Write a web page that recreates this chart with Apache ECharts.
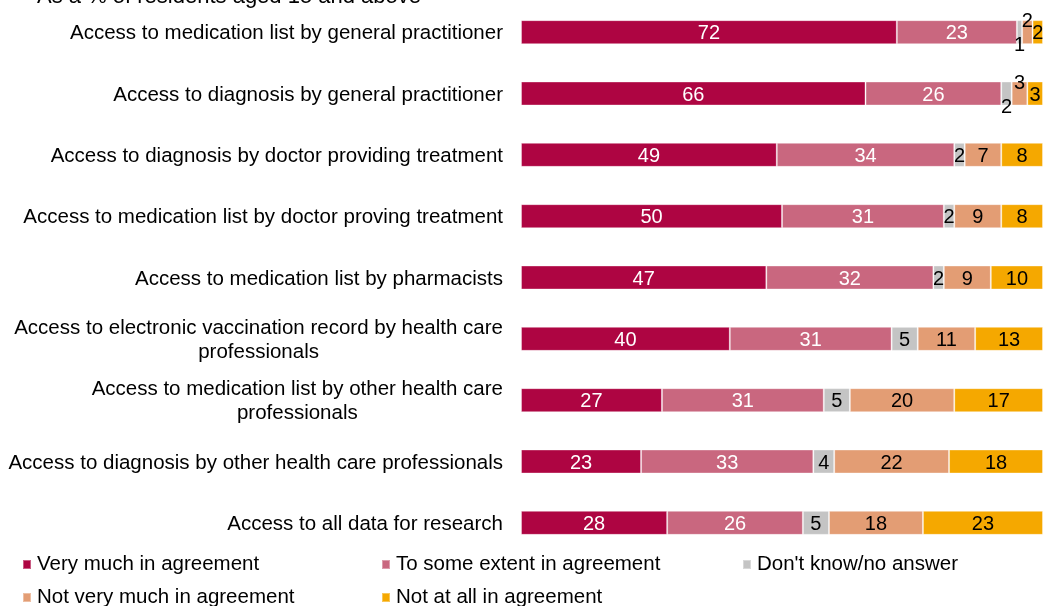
<!DOCTYPE html>
<html>
<head>
<meta charset="utf-8">
<script src="https://cdn.jsdelivr.net/npm/echarts@6/dist/echarts.min.js"></script>
<style>
  html, body { margin: 0; padding: 0; background: #fff; }
  #chart { width: 1043px; height: 606px; }
</style>
</head>
<body>
<div id="chart"></div>
<script>
// Survey items, top to bottom (line breaks mark where long names wrap)
const categories = [
  'Access to medication list by general practitioner',
  'Access to diagnosis by general practitioner',
  'Access to diagnosis by doctor providing treatment',
  'Access to medication list by doctor proving treatment',
  'Access to medication list by pharmacists',
  'Access to electronic vaccination record by health care\nprofessionals',
  'Access to medication list by other health care\nprofessionals',
  'Access to diagnosis by other health care professionals',
  'Access to all data for research'
];

const seriesNames = [
  'Very much in agreement',
  'To some extent in agreement',
  "Don't know/no answer",
  'Not very much in agreement',
  'Not at all in agreement'
];

// Shares in % of residents, one array per answer
const veryMuch     = [72, 66, 49, 50, 47, 40, 27, 23, 28];
const someExtent   = [23, 26, 34, 31, 32, 31, 31, 33, 26];
const dontKnow     = [1, 2, 2, 2, 2, 5, 5, 4, 5];
const notVeryMuch  = [2, 3, 7, 9, 9, 11, 20, 22, 18];
const notAtAll     = [2, 3, 8, 8, 10, 13, 17, 18, 23];

const subtitle = 'As a % of residents aged 15 and above';

const colors = ['#AE0542', '#C9677F', '#C4C4C4', '#E39D74', '#F5A800'];
const labelColors = ['#ffffff', '#ffffff', '#000000', '#000000', '#000000'];
const FONT = '"Liberation Sans", Arial, sans-serif';

// Very thin segments get their label moved onto the bar edge
function points(values, series) {
  return values.map(function (v, i) {
    if (series === 2 && v <= 2 && i < 2) {
      return { value: v, label: { position: ['50%', '100%'], align: 'center', verticalAlign: 'middle' } };
    }
    if (series === 3 && v <= 3 && i < 2) {
      return { value: v, label: { position: ['50%', 0], align: 'center', verticalAlign: 'middle' } };
    }
    return v;
  });
}

const allValues = [veryMuch, someExtent, dontKnow, notVeryMuch, notAtAll];

const series = allValues.map(function (vals, k) {
  return {
    name: seriesNames[k],
    type: 'bar',
    stack: 'total',
    barWidth: 24,
    data: points(vals, k),
    itemStyle: { color: colors[k], borderColor: 'rgba(255,255,255,0.35)', borderWidth: 1 },
    label: {
      show: true,
      position: 'inside',
      offset: [0, 1.5],
      color: labelColors[k],
      fontFamily: FONT,
      fontSize: 20
    },
    emphasis: { disabled: true },
    animation: false
  };
});

const chart = echarts.init(document.getElementById('chart'), null, { renderer: 'canvas' });

// One legend per slot so the entries sit in fixed columns
const legendSlots = [[22, 554], [381, 554], [742, 554], [22, 587], [381, 587]];
const legends = seriesNames.map(function (name, k) {
  return {
    data: [name],
    left: legendSlots[k][0],
    top: legendSlots[k][1],
    itemWidth: 8,
    itemHeight: 9,
    icon: 'rect',
    padding: 0,
    selectedMode: false,
    textStyle: { fontFamily: FONT, fontSize: 20.5, color: '#000', lineHeight: 20, padding: [0, 0, 0, 1] }
  };
});

chart.setOption({
  animation: false,
  color: colors,
  title: {
    text: subtitle,
    left: 37,
    top: -14.5,
    padding: 0,
    textStyle: { fontFamily: FONT, fontSize: 22, fontWeight: 'normal', color: '#000' }
  },
  grid: { left: 521, right: 0, top: 1.5, bottom: 52.5, containLabel: false },
  xAxis: {
    type: 'value',
    min: 0,
    max: 100,
    show: false
  },
  yAxis: {
    type: 'category',
    inverse: true,
    data: categories,
    axisLine: { show: false },
    axisTick: { show: false },
    splitLine: { show: false },
    axisLabel: {
      margin: 18,
      fontFamily: FONT,
      fontSize: 20.5,
      color: '#000',
      lineHeight: 24,
      padding: [3, 0, 0, 0],
      formatter: function (v) {
        return v.split('\n').map(function (s) { return '{c|' + s + '}'; }).join('\n');
      },
      rich: {
        c: { align: 'center', fontFamily: FONT, fontSize: 20.5, color: '#000', lineHeight: 24 }
      }
    }
  },
  legend: legends,
  series: series
});
</script>
</body>
</html>
